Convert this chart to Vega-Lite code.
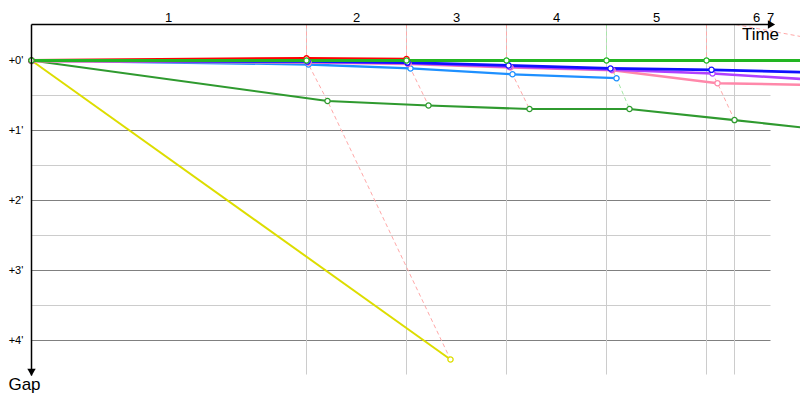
{
  "$schema": "https://vega.github.io/schema/vega-lite/v6.json",
  "description": "Race gap chart: gap to leader (minutes) against leader time, with lap crossing lines.",
  "width": 800,
  "height": 400,
  "autosize": "none",
  "padding": 0,
  "config": {"view": {"stroke": null}, "font": "Liberation Sans"},
  "data": {"values": [{}]},
  "datasets": {
    "drivers": [
      {"car": "Car 8", "lap": 0, "t": 0, "gap": 0},
      {"car": "Car 8", "lap": 1, "t": 419, "gap": 4.271},
      {"car": "Car 7", "lap": 0, "t": 0, "gap": 0},
      {"car": "Car 7", "lap": 1, "t": 296, "gap": 0.579},
      {"car": "Car 7", "lap": 2, "t": 397, "gap": 0.643},
      {"car": "Car 7", "lap": 3, "t": 498, "gap": 0.693},
      {"car": "Car 7", "lap": 4, "t": 598, "gap": 0.693},
      {"car": "Car 7", "lap": 5, "t": 703, "gap": 0.851},
      {"car": "Car 7", "lap": null, "t": 769, "gap": 0.954},
      {"car": "Car 6", "lap": 0, "t": 0, "gap": 0},
      {"car": "Car 6", "lap": 1, "t": 277, "gap": 0.057},
      {"car": "Car 6", "lap": 2, "t": 379, "gap": 0.114},
      {"car": "Car 6", "lap": 3, "t": 481, "gap": 0.197},
      {"car": "Car 6", "lap": 4, "t": 585, "gap": 0.253},
      {"car": "Car 5", "lap": 0, "t": 0, "gap": 0.01},
      {"car": "Car 5", "lap": 1, "t": 277, "gap": 0.03},
      {"car": "Car 5", "lap": 2, "t": 377, "gap": 0.05},
      {"car": "Car 5", "lap": 3, "t": 479, "gap": 0.1},
      {"car": "Car 5", "lap": 4, "t": 581, "gap": 0.14},
      {"car": "Car 5", "lap": 5, "t": 686, "gap": 0.324},
      {"car": "Car 5", "lap": null, "t": 769, "gap": 0.347},
      {"car": "Car 4", "lap": 0, "t": 0, "gap": 0.003},
      {"car": "Car 4", "lap": 1, "t": 276, "gap": 0.02},
      {"car": "Car 4", "lap": 2, "t": 376, "gap": 0.04},
      {"car": "Car 4", "lap": 3, "t": 478, "gap": 0.09},
      {"car": "Car 4", "lap": 4, "t": 580, "gap": 0.13},
      {"car": "Car 4", "lap": 5, "t": 681, "gap": 0.186},
      {"car": "Car 4", "lap": null, "t": 769, "gap": 0.263},
      {"car": "Car 3", "lap": 0, "t": 0, "gap": 0},
      {"car": "Car 3", "lap": 1, "t": 276, "gap": 0.014},
      {"car": "Car 3", "lap": 2, "t": 376, "gap": 0.03},
      {"car": "Car 3", "lap": 3, "t": 477, "gap": 0.07},
      {"car": "Car 3", "lap": 4, "t": 579, "gap": 0.114},
      {"car": "Car 3", "lap": 5, "t": 680, "gap": 0.133},
      {"car": "Car 3", "lap": null, "t": 769, "gap": 0.167},
      {"car": "Car 2", "lap": 0, "t": 0, "gap": 0},
      {"car": "Car 2", "lap": 1, "t": 275, "gap": -0.03},
      {"car": "Car 2", "lap": 2, "t": 375, "gap": -0.02},
      {"car": "Car 1", "lap": 0, "t": 0, "gap": 0},
      {"car": "Car 1", "lap": 1, "t": 275, "gap": 0},
      {"car": "Car 1", "lap": 2, "t": 375, "gap": 0},
      {"car": "Car 1", "lap": 3, "t": 475, "gap": 0},
      {"car": "Car 1", "lap": 4, "t": 575, "gap": 0},
      {"car": "Car 1", "lap": 5, "t": 675, "gap": 0},
      {"car": "Car 1", "lap": null, "t": 769, "gap": 0}
    ],
    "laplines": [
      {"lap": 1, "seq": 0, "t": 275, "gap": -0.514},
      {"lap": 1, "seq": 1, "t": 275, "gap": -0.03},
      {"lap": 1, "seq": 2, "t": 276, "gap": 0.014},
      {"lap": 1, "seq": 3, "t": 277, "gap": 0.057},
      {"lap": 1, "seq": 4, "t": 296, "gap": 0.579},
      {"lap": 1, "seq": 5, "t": 419, "gap": 4.271},
      {"lap": 2, "seq": 0, "t": 375, "gap": -0.514},
      {"lap": 2, "seq": 1, "t": 375, "gap": -0.02},
      {"lap": 2, "seq": 2, "t": 377, "gap": 0.05},
      {"lap": 2, "seq": 3, "t": 379, "gap": 0.114},
      {"lap": 2, "seq": 4, "t": 397, "gap": 0.643},
      {"lap": 3, "seq": 0, "t": 475, "gap": -0.514},
      {"lap": 3, "seq": 1, "t": 475, "gap": 0},
      {"lap": 3, "seq": 2, "t": 479, "gap": 0.1},
      {"lap": 3, "seq": 3, "t": 481, "gap": 0.197},
      {"lap": 3, "seq": 4, "t": 498, "gap": 0.693},
      {"lap": 4, "seq": 0, "t": 575, "gap": -0.514},
      {"lap": 4, "seq": 1, "t": 575, "gap": 0},
      {"lap": 4, "seq": 2, "t": 581, "gap": 0.14},
      {"lap": 4, "seq": 3, "t": 585, "gap": 0.253},
      {"lap": 4, "seq": 4, "t": 598, "gap": 0.693},
      {"lap": 5, "seq": 0, "t": 675, "gap": -0.514},
      {"lap": 5, "seq": 1, "t": 675, "gap": 0},
      {"lap": 5, "seq": 2, "t": 681, "gap": 0.186},
      {"lap": 5, "seq": 3, "t": 686, "gap": 0.324},
      {"lap": 5, "seq": 4, "t": 703, "gap": 0.851},
      {"lap": 6, "seq": 0, "t": 704, "gap": -0.514},
      {"lap": 6, "seq": 1, "t": 779, "gap": -0.317}
    ],
    "hgrid": [
      {"gap": 0.5, "kind": "minor"},
      {"gap": 1, "kind": "major"},
      {"gap": 1.5, "kind": "minor"},
      {"gap": 2, "kind": "major"},
      {"gap": 2.5, "kind": "minor"},
      {"gap": 3, "kind": "major"},
      {"gap": 3.5, "kind": "minor"},
      {"gap": 4, "kind": "major"}
    ],
    "vgrid": [{"t": 275}, {"t": 375}, {"t": 475}, {"t": 575}, {"t": 675}, {"t": 703}],
    "ylabels": [
      {"gap": 0, "label": "+0'"},
      {"gap": 1, "label": "+1'"},
      {"gap": 2, "label": "+2'"},
      {"gap": 3, "label": "+3'"},
      {"gap": 4, "label": "+4'"}
    ],
    "laplabels": [
      {"t": 137, "label": "1"},
      {"t": 325, "label": "2"},
      {"t": 425, "label": "3"},
      {"t": 525, "label": "4"},
      {"t": 625, "label": "5"},
      {"t": 725, "label": "6"},
      {"t": 739, "label": "7"}
    ]
  },
  "resolve": {"scale": {"color": "independent", "stroke": "independent", "strokeWidth": "independent"}},
  "layer": [
    {
      "data": {"name": "hgrid"},
      "mark": {"type": "rule", "strokeWidth": 1},
      "encoding": {
        "x": {"datum": 0, "type": "quantitative", "scale": {"domain": [-31.5, 768.5], "nice": false, "zero": false}, "axis": null},
        "x2": {"datum": 739},
        "y": {"field": "gap", "type": "quantitative", "scale": {"domain": [-0.8643, 4.85], "reverse": true, "nice": false, "zero": false}, "axis": null},
        "color": {"field": "kind", "type": "nominal", "scale": {"domain": ["minor", "major"], "range": ["#cccccc", "#808080"]}, "legend": null}
      }
    },
    {
      "data": {"name": "vgrid"},
      "mark": {"type": "rule", "strokeWidth": 1, "color": "#cccccc"},
      "encoding": {
        "x": {"field": "t", "type": "quantitative", "scale": {"domain": [-31.5, 768.5], "nice": false, "zero": false}, "axis": null},
        "y": {"datum": -0.514, "type": "quantitative", "scale": {"domain": [-0.8643, 4.85], "reverse": true, "nice": false, "zero": false}, "axis": null},
        "y2": {"datum": 4.486}
      }
    },
    {
      "data": {"name": "laplines"},
      "mark": {"type": "line", "strokeWidth": 1, "strokeDash": [4, 3], "clip": true},
      "encoding": {
        "x": {"field": "t", "type": "quantitative", "scale": {"domain": [-31.5, 768.5], "nice": false, "zero": false}, "axis": null},
        "y": {"field": "gap", "type": "quantitative", "scale": {"domain": [-0.8643, 4.85], "reverse": true, "nice": false, "zero": false}, "axis": null},
        "order": {"field": "seq", "type": "quantitative"},
        "detail": {"field": "lap", "type": "nominal"},
        "color": {"field": "lap", "type": "nominal", "scale": {"domain": [1, 2, 3, 4, 5, 6], "range": ["#ffa8a8", "#ffa8a8", "#ffa8a8", "#a6e8a6", "#ffa8a8", "#ffa8a8"]}, "legend": null}
      }
    },
    {
      "data": {"name": "drivers"},
      "mark": {"type": "line", "clip": true},
      "encoding": {
        "x": {"field": "t", "type": "quantitative", "scale": {"domain": [-31.5, 768.5], "nice": false, "zero": false}, "axis": null},
        "y": {"field": "gap", "type": "quantitative", "scale": {"domain": [-0.8643, 4.85], "reverse": true, "nice": false, "zero": false}, "axis": null},
        "color": {"field": "car", "type": "nominal", "scale": {"domain": ["Car 1", "Car 2", "Car 3", "Car 4", "Car 5", "Car 6", "Car 7", "Car 8"], "range": ["#22b522", "#ff0000", "#1010ff", "#b040ff", "#ff88aa", "#1e90ff", "#2f9a2f", "#dddd00"]}, "legend": null},
        "strokeWidth": {"field": "car", "type": "nominal", "scale": {"domain": ["Car 1", "Car 2", "Car 3", "Car 4", "Car 5", "Car 6", "Car 7", "Car 8"], "range": [3, 2, 2, 2, 2, 2, 2, 2]}, "legend": null}
      }
    },
    {
      "data": {"name": "drivers"},
      "transform": [{"filter": "datum.lap != null"}],
      "mark": {"type": "point", "filled": false, "fill": "white", "fillOpacity": 1, "size": 28, "strokeWidth": 1.3, "opacity": 1},
      "encoding": {
        "x": {"field": "t", "type": "quantitative", "scale": {"domain": [-31.5, 768.5], "nice": false, "zero": false}, "axis": null},
        "y": {"field": "gap", "type": "quantitative", "scale": {"domain": [-0.8643, 4.85], "reverse": true, "nice": false, "zero": false}, "axis": null},
        "stroke": {"field": "car", "type": "nominal", "scale": {"domain": ["Car 1", "Car 2", "Car 3", "Car 4", "Car 5", "Car 6", "Car 7", "Car 8"], "range": ["#22b522", "#ff0000", "#1010ff", "#b040ff", "#ff88aa", "#1e90ff", "#2f9a2f", "#dddd00"]}, "legend": null}
      }
    },
    {
      "mark": {"type": "rule", "color": "black", "strokeWidth": 1.5},
      "encoding": {
        "x": {"datum": 0, "type": "quantitative", "scale": {"domain": [-31.5, 768.5], "nice": false, "zero": false}, "axis": null},
        "x2": {"datum": 741},
        "y": {"datum": -0.514, "type": "quantitative", "scale": {"domain": [-0.8643, 4.85], "reverse": true, "nice": false, "zero": false}, "axis": null}
      }
    },
    {
      "mark": {"type": "rule", "color": "black", "strokeWidth": 1.5},
      "encoding": {
        "x": {"datum": 0, "type": "quantitative", "scale": {"domain": [-31.5, 768.5], "nice": false, "zero": false}, "axis": null},
        "y": {"datum": -0.514, "type": "quantitative", "scale": {"domain": [-0.8643, 4.85], "reverse": true, "nice": false, "zero": false}, "axis": null},
        "y2": {"datum": 4.5}
      }
    },
    {
      "mark": {"type": "point", "shape": "triangle-right", "filled": true, "color": "black", "size": 70, "opacity": 1},
      "encoding": {
        "x": {"datum": 740, "type": "quantitative", "scale": {"domain": [-31.5, 768.5], "nice": false, "zero": false}, "axis": null},
        "y": {"datum": -0.514, "type": "quantitative", "scale": {"domain": [-0.8643, 4.85], "reverse": true, "nice": false, "zero": false}, "axis": null}
      }
    },
    {
      "mark": {"type": "point", "shape": "triangle-down", "filled": true, "color": "black", "size": 70, "opacity": 1},
      "encoding": {
        "x": {"datum": 0, "type": "quantitative", "scale": {"domain": [-31.5, 768.5], "nice": false, "zero": false}, "axis": null},
        "y": {"datum": 4.457, "type": "quantitative", "scale": {"domain": [-0.8643, 4.85], "reverse": true, "nice": false, "zero": false}, "axis": null}
      }
    },
    {
      "data": {"name": "ylabels"},
      "mark": {"type": "text", "fontSize": 11, "align": "center", "baseline": "middle", "color": "black"},
      "encoding": {
        "x": {"datum": -15.5, "type": "quantitative", "scale": {"domain": [-31.5, 768.5], "nice": false, "zero": false}, "axis": null},
        "y": {"field": "gap", "type": "quantitative", "scale": {"domain": [-0.8643, 4.85], "reverse": true, "nice": false, "zero": false}, "axis": null},
        "text": {"field": "label", "type": "nominal"}
      }
    },
    {
      "data": {"name": "laplabels"},
      "mark": {"type": "text", "fontSize": 13, "align": "center", "baseline": "middle", "color": "black"},
      "encoding": {
        "x": {"field": "t", "type": "quantitative", "scale": {"domain": [-31.5, 768.5], "nice": false, "zero": false}, "axis": null},
        "y": {"datum": -0.614, "type": "quantitative", "scale": {"domain": [-0.8643, 4.85], "reverse": true, "nice": false, "zero": false}, "axis": null},
        "text": {"field": "label", "type": "nominal"}
      }
    },
    {
      "mark": {"type": "text", "fontSize": 17, "align": "center", "baseline": "middle", "color": "black", "text": "Time"},
      "encoding": {
        "x": {"datum": 729, "type": "quantitative", "scale": {"domain": [-31.5, 768.5], "nice": false, "zero": false}, "axis": null},
        "y": {"datum": -0.371, "type": "quantitative", "scale": {"domain": [-0.8643, 4.85], "reverse": true, "nice": false, "zero": false}, "axis": null}
      }
    },
    {
      "mark": {"type": "text", "fontSize": 17, "align": "center", "baseline": "middle", "color": "black", "text": "Gap"},
      "encoding": {
        "x": {"datum": -7, "type": "quantitative", "scale": {"domain": [-31.5, 768.5], "nice": false, "zero": false}, "axis": null},
        "y": {"datum": 4.629, "type": "quantitative", "scale": {"domain": [-0.8643, 4.85], "reverse": true, "nice": false, "zero": false}, "axis": null}
      }
    }
  ]
}
